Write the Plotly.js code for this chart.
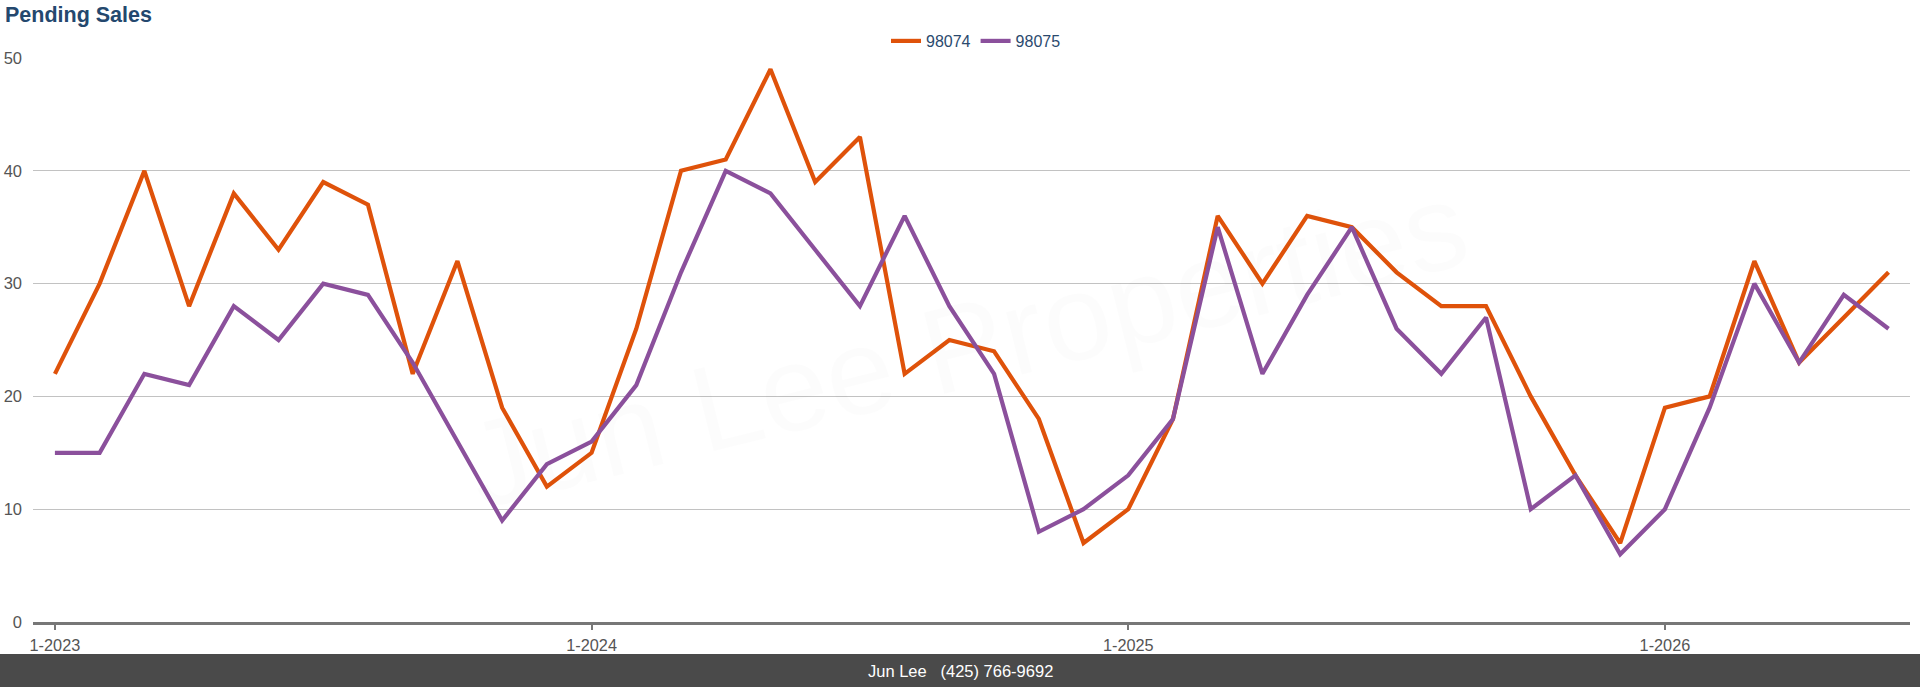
<!DOCTYPE html>
<html>
<head>
<meta charset="utf-8">
<script src="https://cdn.plot.ly/plotly-3.0.1.min.js"></script>
<style>
  html, body { margin: 0; padding: 0; background: #ffffff; }
  #chart { width: 1920px; height: 687px; }
</style>
</head>
<body>
<div id="chart"></div>
<script>
// ---- Data ----
const months = [
  "1-2023","2-2023","3-2023","4-2023","5-2023","6-2023","7-2023","8-2023","9-2023","10-2023","11-2023","12-2023",
  "1-2024","2-2024","3-2024","4-2024","5-2024","6-2024","7-2024","8-2024","9-2024","10-2024","11-2024","12-2024",
  "1-2025","2-2025","3-2025","4-2025","5-2025","6-2025","7-2025","8-2025","9-2025","10-2025","11-2025","12-2025",
  "1-2026","2-2026","3-2026","4-2026","5-2026","6-2026"
];
const zip98074 = [22,30,40,28,38,33,39,37,22,32,19,12, 15,26,40,41,49,39,43,22,25,24,18,7, 10,18,36,30,36,35,31,28,28,20,13,7, 19,20,32,23,27,31];
const zip98075 = [15,15,22,21,28,25,30,29,23,16,9,14, 16,21,31,40,38,33,28,36,28,22,8,10, 13,18,35,22,29,35,26,22,27,10,13,6, 10,19,30,23,29,26];
const seriesNames = ["98074", "98075"];
const tickLabels = ["1-2023","1-2024","1-2025","1-2026"];
const chartTitle = "Pending Sales";
const footerText = "Jun Lee\u00a0\u00a0\u00a0(425) 766-9692";
const watermarkText = "Jun Lee Properties";

// ---- Chart ----
const FONT = "Liberation Sans, Arial, Helvetica, sans-serif";
const W = 1920, H = 687;
const M = {l: 33, r: 10, t: 58, b: 65};
const plotW = W - M.l - M.r, plotH = H - M.t - M.b;
const px2paperX = x => (x - M.l) / plotW;
const px2paperY = y => (H - M.b - y) / plotH;

const traces = [
  {x: months, y: zip98074, name: seriesNames[0], type: "scatter", mode: "lines",
   line: {color: "#df520a", width: 4.2}},
  {x: months, y: zip98075, name: seriesNames[1], type: "scatter", mode: "lines",
   line: {color: "#8b509c", width: 4.2}}
];

const outline = "rgba(0,0,0,0.055)";
const layout = {
  width: W, height: H,
  margin: M,
  paper_bgcolor: "#ffffff",
  plot_bgcolor: "#ffffff",
  font: {family: FONT, color: "#555555"},
  title: {
    text: "<b>" + chartTitle + "</b>",
    font: {family: FONT, size: 21.5, color: "#24486e"},
    xref: "container", yref: "container",
    x: 5 / W, xanchor: "left",
    y: 1 - 14 / H, yanchor: "middle"
  },
  showlegend: true,
  legend: {
    orientation: "h",
    x: px2paperX(976), xanchor: "center",
    y: px2paperY(41), yanchor: "middle",
    font: {family: FONT, size: 16, color: "#2b4a6e"},
    itemwidth: 30,
    bgcolor: "rgba(0,0,0,0)"
  },
  xaxis: {
    type: "category",
    range: [-0.49, 41.48],
    tickmode: "array",
    tickvals: tickLabels,
    ticktext: tickLabels,
    ticks: "outside", ticklen: 5, tickwidth: 2, tickcolor: "#777777",
    ticklabelstandoff: 2,
    showline: true, linecolor: "#777777", linewidth: 2.5,
    showgrid: false, zeroline: false,
    tickfont: {family: FONT, size: 16.3, color: "#555555"},
    fixedrange: true
  },
  yaxis: {
    range: [0, 50],
    tick0: 0, dtick: 10,
    showgrid: true, gridcolor: "#c2c2c2", gridwidth: 1.3,
    zeroline: false, showline: false,
    ticks: "",
    ticklabelstandoff: 10,
    tickfont: {family: FONT, size: 16.5, color: "#555555"},
    fixedrange: true
  },
  shapes: [
    {type: "rect", xref: "paper", yref: "paper", layer: "above",
     x0: px2paperX(-5), x1: px2paperX(W + 5),
     y0: px2paperY(654), y1: px2paperY(H + 5),
     fillcolor: "#4a4a4a", line: {width: 0}}
  ],
  annotations: [
    {text: watermarkText, xref: "paper", yref: "paper",
     x: px2paperX(967), y: px2paperY(345), xanchor: "center", yanchor: "middle",
     showarrow: false, textangle: -14,
     font: {family: FONT, size: 122, color: "rgba(0,0,0,0.012)",
            shadow: "2px 0 0 " + outline + ", -2px 0 0 " + outline + ", 0 2px 0 " + outline + ", 0 -2px 0 " + outline}},
    {text: footerText, xref: "paper", yref: "paper",
     x: px2paperX(960), y: px2paperY(670.5), xanchor: "center", yanchor: "middle",
     showarrow: false,
     font: {family: FONT, size: 16.5, color: "#ffffff"}}
  ]
};

Plotly.newPlot("chart", traces, layout, {displayModeBar: false, staticPlot: true, responsive: false});
</script>
</body>
</html>
